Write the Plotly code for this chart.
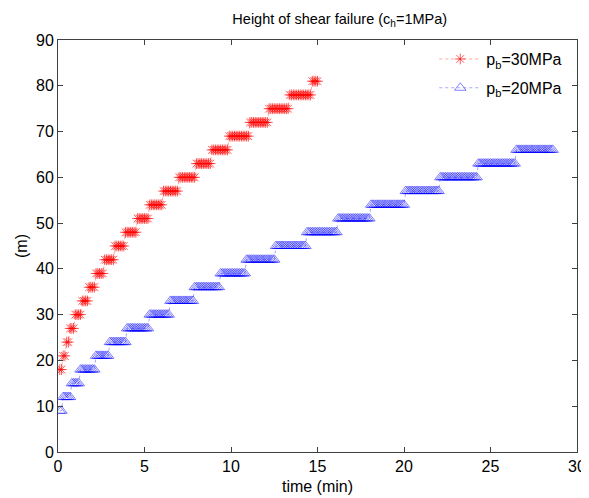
import numpy as np
import plotly.graph_objects as go

# Step levels (m) and the time (min) at which each level is first reached
red_levels = [18, 21, 24, 27, 30, 33, 36, 39, 42, 45, 48, 51, 54, 57, 60, 63, 66, 69, 72, 75, 78, 81]
red_start = [0.1, 0.3, 0.5, 0.7, 1.0, 1.4, 1.8, 2.2, 2.7, 3.3, 3.9, 4.6, 5.3, 6.1, 7.0, 8.0, 8.9, 9.9, 11.1, 12.2, 13.4, 14.7]
red_end = 15.0

blue_levels = [9, 12, 15, 18, 21, 24, 27, 30, 33, 36, 39, 42, 45, 48, 51, 54, 57, 60, 63, 66]
blue_start = [0.1, 0.3, 0.8, 1.3, 2.2, 3.0, 4.0, 5.3, 6.5, 7.9, 9.4, 10.9, 12.6, 14.4, 16.2, 18.1, 20.1, 22.1, 24.3, 26.5]
blue_end = 28.6

sample_dt = 0.1  # sampling interval of the time record (min)

x_ticks = [0, 5, 10, 15, 20, 25, 30]
y_ticks = [0, 10, 20, 30, 40, 50, 60, 70, 80, 90]


def sampled(levels, starts, t_end):
    t = np.round(np.arange(starts[0], t_end + 1e-9, sample_dt), 3)
    idx = np.searchsorted(np.array(starts), t + 1e-9, side="right") - 1
    return t, np.array(levels)[idx]


tr, hr = sampled(red_levels, red_start, red_end)
tb, hb = sampled(blue_levels, blue_start, blue_end)

fig = go.Figure()
fig.add_trace(go.Scatter(
    x=tr, y=hr, mode="lines+markers", name="p<sub>b</sub>=30MPa", legendgroup="r",
    line=dict(color="rgba(255,0,0,0.6)", width=0.6, dash="dot"),
    marker=dict(symbol="asterisk-open", size=9, color="rgba(255,0,0,0.8)",
                line=dict(color="rgba(255,0,0,0.8)", width=0.8)),
))
fig.add_trace(go.Scatter(
    x=tb, y=hb, mode="lines+markers", name="p<sub>b</sub>=20MPa", legendgroup="b",
    line=dict(color="rgba(0,0,255,0.6)", width=0.6, dash="dot"),
    marker=dict(symbol="triangle-up-open", size=10, color="rgba(0,0,255,0.7)",
                line=dict(color="rgba(0,0,255,0.7)", width=0.7)),
))

axis_common = dict(
    showgrid=False, zeroline=False, showline=True, linecolor="#404040", linewidth=1,
    mirror="ticks", ticks="inside", ticklen=5, tickcolor="#404040", automargin=False,
    tickfont=dict(family="Liberation Sans, Arial", size=16, color="black"),
)

# page has an 8px body margin, so the figure is 8px smaller than the window
fig.update_layout(
    width=581, height=490,
    margin=dict(l=50, r=12, t=32, b=46, autoexpand=False),
    paper_bgcolor="white", plot_bgcolor="white",
    font=dict(family="Liberation Sans, Arial", size=16, color="black"),
    title=dict(text="Height of shear failure (c<sub>h</sub>=1MPa)", x=0.571, xanchor="center",
               y=0.988, yanchor="top", font=dict(size=14.5)),
    xaxis=dict(range=[0, 30], tickvals=x_ticks, **axis_common,
               title=dict(text="time (min)", standoff=6, font=dict(size=16))),
    yaxis=dict(range=[0, 90], tickvals=y_ticks, **axis_common,
               title=dict(text="(m)", standoff=4, font=dict(size=16))),
    legend=dict(x=0.725, y=0.995, xanchor="left", yanchor="top",
                bgcolor="rgba(255,255,255,0)", borderwidth=0,
                font=dict(size=16), itemwidth=42, tracegroupgap=5),
    showlegend=True,
)

fig.write_html("out.html")
